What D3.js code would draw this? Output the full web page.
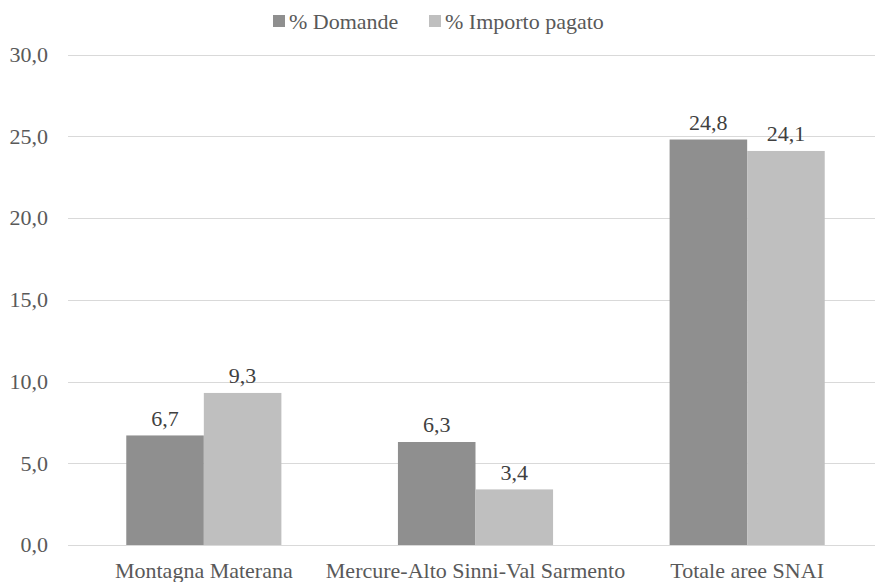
<!DOCTYPE html>
<html>
<head>
<meta charset="utf-8">
<script src="https://cdn.jsdelivr.net/npm/d3@7"></script>
<style>
  body { margin: 0; background: #fff; }
  svg text { font-family: "Liberation Serif", Times, serif !important; }
</style>
</head>
<body>
<svg id="chart" width="875" height="582"></svg>
<script>
const categories = ['Montagna Materana', 'Mercure-Alto Sinni-Val Sarmento', 'Totale aree SNAI'];
const seriesNames = ['% Domande', '% Importo pagato'];
const domande = [6.7, 6.3, 24.8];
const importo = [9.3, 3.4, 24.1];
const yTicks = [0, 5, 10, 15, 20, 25, 30];

const colors = ['#8f8f8f', '#bfbfbf'];
const width = 875, height = 582;

const svg = d3.select('#chart');

const x0 = d3.scaleBand()
  .domain(categories)
  .range([68, 883])
  .paddingInner(0.429)
  .paddingOuter(0.2145);

const x1 = d3.scaleBand()
  .domain(seriesNames)
  .range([0, x0.bandwidth()]);

const y = d3.scaleLinear().domain([0, 30]).range([545, 54.5]);

const fmt = v => d3.format('.1f')(v).replace('.', ',');

// gridlines
svg.append('g')
  .selectAll('line')
  .data(yTicks)
  .join('line')
  .attr('x1', 68)
  .attr('x2', width)
  .attr('y1', d => Math.round(y(d)) + 0.5)
  .attr('y2', d => Math.round(y(d)) + 0.5)
  .attr('stroke', '#d9d9d9')
  .attr('stroke-width', 1);

// y axis labels
svg.append('g')
  .selectAll('text')
  .data(yTicks)
  .join('text')
  .attr('x', 48)
  .attr('y', d => y(d))
  .attr('dy', '0.33em')
  .attr('text-anchor', 'end')
  .style('font-family', 'Liberation Serif')
  .style('font-size', '22px')
  .attr('fill', '#595959')
  .text(d => fmt(d));

// bars
const rows = categories.map((c, i) => ({
  cat: c,
  vals: [
    { name: seriesNames[0], v: domande[i] },
    { name: seriesNames[1], v: importo[i] },
  ],
}));

const groups = svg.append('g')
  .selectAll('g')
  .data(rows)
  .join('g')
  .attr('transform', d => `translate(${x0(d.cat)},0)`);

groups.selectAll('rect')
  .data(d => d.vals)
  .join('rect')
  .attr('x', d => x1(d.name))
  .attr('y', d => y(d.v))
  .attr('width', x1.bandwidth())
  .attr('height', d => y(0) - y(d.v))
  .attr('fill', (d, i) => colors[i]);

groups.selectAll('text')
  .data(d => d.vals)
  .join('text')
  .attr('x', d => x1(d.name) + x1.bandwidth() / 2)
  .attr('y', d => y(d.v) - 9.5)
  .attr('text-anchor', 'middle')
  .style('font-family', 'Liberation Serif')
  .style('font-size', '22px')
  .attr('fill', '#404040')
  .text(d => fmt(d.v));

// category labels
svg.append('g')
  .selectAll('text')
  .data(categories)
  .join('text')
  .attr('x', d => x0(d) + x0.bandwidth() / 2)
  .attr('y', 578)
  .attr('text-anchor', 'middle')
  .style('font-family', 'Liberation Serif')
  .style('font-size', '22px')
  .attr('fill', '#595959')
  .text(d => d);

// legend
const legendX = [273, 429];
const legend = svg.append('g')
  .selectAll('g')
  .data(seriesNames)
  .join('g')
  .attr('transform', (d, i) => `translate(${legendX[i]},0)`);

legend.append('rect')
  .attr('x', 0)
  .attr('y', 15)
  .attr('width', 12)
  .attr('height', 12)
  .attr('fill', (d, i) => colors[i]);

legend.append('text')
  .attr('x', 16)
  .attr('y', 29)
  .style('font-family', 'Liberation Serif')
  .style('font-size', '22px')
  .attr('fill', '#595959')
  .text(d => d);
</script>
</body>
</html>
